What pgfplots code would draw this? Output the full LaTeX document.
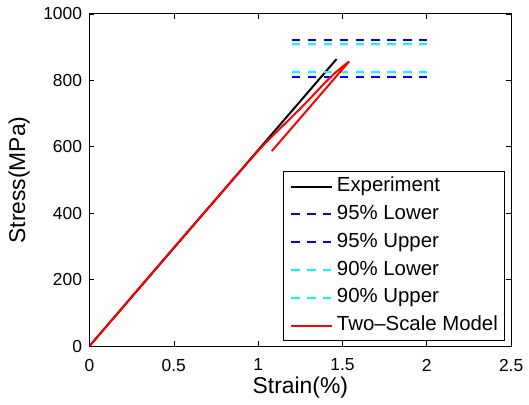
\documentclass[border=0pt]{standalone}
\usepackage{pgfplots}
\pgfplotsset{compat=1.18}
\usepackage{fontspec}
\setmainfont{Liberation Sans}
\definecolor{mblue}{rgb}{0,0,1}
\definecolor{mcyan}{rgb}{0,1,1}
\definecolor{mred}{rgb}{1,0,0}
\begin{document}
\fontsize{17.5}{20}\selectfont
\begin{tikzpicture}
\begin{axis}[
  scale only axis, width=424pt, height=334pt,
  xmin=0, xmax=2.5, ymin=0, ymax=1000,
  xtick={0,0.5,1,1.5,2,2.5}, ytick={0,200,400,600,800,1000},
  xticklabels={0,0.5,1,1.5,2,2.5},
  yticklabels={0,200,400,600,800,1000},
  tick align=inside, major tick length=5pt,
  tick style={black, line width=0.6pt},
  axis line style={black, line width=0.9pt},
  /pgf/number format/assume math mode=true,
  ticklabel style={font=\fontsize{17.5}{20}\selectfont},
  xticklabel style={yshift=-7pt},
  yticklabel style={xshift=-1.5pt},
  label style={font=\fontsize{23}{26}\selectfont},
  xlabel={Strain(\%)}, ylabel={Stress(MPa)},
  xlabel style={at={(axis description cs:0.5,-0.126)}, anchor=center},
  ylabel style={at={(axis description cs:-0.167,0.5)}, anchor=center},
  legend cell align=left,
  legend style={at={(axis description cs:0.986,0.015)}, anchor=south east,
    draw=black, line width=0.8pt, font=\fontsize{20.5}{23}\selectfont,
    inner xsep=7pt, inner ysep=5pt, row sep=8pt, column sep=4pt,
    nodes={inner sep=0pt, text height=15pt, text depth=5pt}},
  legend image code/.code={\draw[#1, line width=2pt] (0pt,0pt) -- (41pt,0pt);},
]
\addplot[black, line width=2pt] coordinates {(0,0) (0.5,295) (1.0,590) (1.465,864)};
\addlegendentry{Experiment}
\addplot[mblue, line width=2pt, dash pattern=on 8.5pt off 7.5pt] coordinates {(1.2,811) (2.0,811)};
\addlegendentry{95\% Lower}
\addplot[mblue, line width=2pt, dash pattern=on 8.5pt off 7.5pt] coordinates {(1.2,920) (2.0,920)};
\addlegendentry{95\% Upper}
\addplot[mcyan, line width=2pt, dash pattern=on 8.5pt off 7.5pt] coordinates {(1.2,824) (2.0,824)};
\addlegendentry{90\% Lower}
\addplot[mcyan, line width=2pt, dash pattern=on 8.5pt off 7.5pt] coordinates {(1.2,908) (2.0,908)};
\addlegendentry{90\% Upper}
\addplot[mred, line width=2pt] coordinates {
(0,0) (0.1,59) (0.2,118) (0.3,178) (0.4,237) (0.5,296) (0.6,355) (0.7,413)
(0.8,471) (0.9,530) (1.0,588) (1.05,615) (1.1,640) (1.15,665) (1.2,690)
(1.25,715) (1.3,741) (1.35,768) (1.4,795) (1.45,820) (1.5,841) (1.54,857)
(1.081,587)};
\addlegendentry{Two--Scale Model}
\coordinate (bl) at (axis description cs:-0.2123,-0.1766);
\coordinate (tr) at (axis description cs:1.0354,1.0419);
\end{axis}
\path (bl) rectangle (tr);
\end{tikzpicture}
\end{document}
